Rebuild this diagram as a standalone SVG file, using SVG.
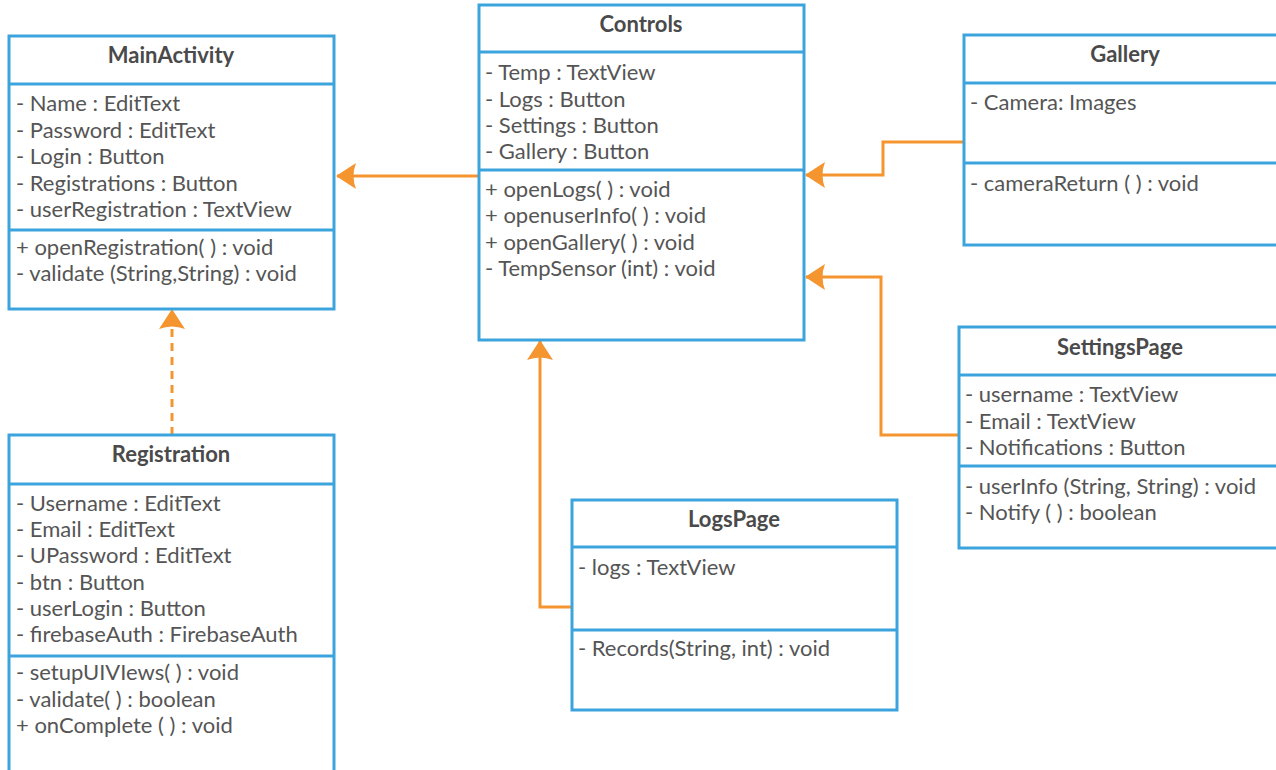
<svg xmlns="http://www.w3.org/2000/svg" width="1276" height="770" viewBox="0 0 1276 770">
<defs>
<style>
.box{fill:#fff;stroke:#3ca4dc;stroke-width:3}
.div{stroke:#3ca4dc;stroke-width:3}
.t{font-family:Lato,"Open Sans",sans-serif;font-size:22px;fill:#555}
.h{font-family:Lato,"Open Sans",sans-serif;font-size:22px;font-weight:bold;fill:#4a4a4a;text-anchor:middle}
.c{fill:none;stroke:#f5952f;stroke-width:3}
.d{stroke-dasharray:8 6}
</style>
<marker id="ah" viewBox="0 0 20 26" refX="19" refY="13" markerWidth="20" markerHeight="26" markerUnits="userSpaceOnUse" orient="auto">
<path d="M20 13 L0 0 Q5 13 0 26 Z" fill="#f5952f"/>
</marker>
</defs>
<g id="connectors">
<path class="c" d="M479 176 H337" marker-end="url(#ah)"/>
<path class="c d" d="M172 435 V310" marker-end="url(#ah)"/>
<path class="c" d="M572 607 H540 V341" marker-end="url(#ah)"/>
<path class="c" d="M964 142 H883 V175 H806" marker-end="url(#ah)"/>
<path class="c" d="M959 435 H881 V277 H806" marker-end="url(#ah)"/>
</g>
<g id="MainActivity">
<rect class="box" x="9" y="36" width="325" height="273"/>
<line class="div" x1="9" y1="84" x2="334" y2="84"/>
<line class="div" x1="9" y1="230" x2="334" y2="230"/>
<text class="h" x="171" y="63">MainActivity</text>
<text class="t" x="16" y="111">- Name : EditText</text>
<text class="t" x="16" y="138">- Password : EditText</text>
<text class="t" x="16" y="164">- Login : Button</text>
<text class="t" x="16" y="191">- Registrations : Button</text>
<text class="t" x="16" y="217">- userRegistration : TextView</text>
<text class="t" x="16" y="255">+ openRegistration( ) : void</text>
<text class="t" x="16" y="281">- validate (String,String) : void</text>
</g>
<g id="Controls">
<rect class="box" x="479" y="5" width="325" height="335"/>
<line class="div" x1="479" y1="52" x2="804" y2="52"/>
<line class="div" x1="479" y1="170" x2="804" y2="170"/>
<text class="h" x="641" y="32">Controls</text>
<text class="t" x="485" y="80">- Temp : TextView</text>
<text class="t" x="485" y="107">- Logs : Button</text>
<text class="t" x="485" y="133">- Settings : Button</text>
<text class="t" x="485" y="159">- Gallery : Button</text>
<text class="t" x="485" y="197">+ openLogs( ) : void</text>
<text class="t" x="485" y="223">+ openuserInfo( ) : void</text>
<text class="t" x="485" y="250">+ openGallery( ) : void</text>
<text class="t" x="485" y="276">- TempSensor (int) : void</text>
</g>
<g id="Gallery">
<rect class="box" x="964" y="35" width="330" height="210"/>
<line class="div" x1="964" y1="83" x2="1276" y2="83"/>
<line class="div" x1="964" y1="163" x2="1276" y2="163"/>
<text class="h" x="1125" y="62">Gallery</text>
<text class="t" x="970" y="110">- Camera: Images</text>
<text class="t" x="970" y="191">- cameraReturn ( ) : void</text>
</g>
<g id="SettingsPage">
<rect class="box" x="959" y="327" width="335" height="221"/>
<line class="div" x1="959" y1="375" x2="1276" y2="375"/>
<line class="div" x1="959" y1="466" x2="1276" y2="466"/>
<text class="h" x="1120" y="355">SettingsPage</text>
<text class="t" x="965" y="402">- username : TextView</text>
<text class="t" x="965" y="429">- Email : TextView</text>
<text class="t" x="965" y="455">- Notifications : Button</text>
<text class="t" x="965" y="494">- userInfo (String, String) : void</text>
<text class="t" x="965" y="520">- Notify ( ) : boolean</text>
</g>
<g id="Registration">
<rect class="box" x="9" y="435" width="325" height="350"/>
<line class="div" x1="9" y1="484" x2="334" y2="484"/>
<line class="div" x1="9" y1="656" x2="334" y2="656"/>
<text class="h" x="171" y="462">Registration</text>
<text class="t" x="16" y="511">- Username : EditText</text>
<text class="t" x="16" y="537">- Email : EditText</text>
<text class="t" x="16" y="563">- UPassword : EditText</text>
<text class="t" x="16" y="590">- btn : Button</text>
<text class="t" x="16" y="616">- userLogin : Button</text>
<text class="t" x="16" y="642">- firebaseAuth : FirebaseAuth</text>
<text class="t" x="16" y="680">- setupUIVIews( ) : void</text>
<text class="t" x="16" y="707">- validate( ) : boolean</text>
<text class="t" x="16" y="733">+ onComplete ( ) : void</text>
</g>
<g id="LogsPage">
<rect class="box" x="572" y="500" width="325" height="210"/>
<line class="div" x1="572" y1="547" x2="897" y2="547"/>
<line class="div" x1="572" y1="630" x2="897" y2="630"/>
<text class="h" x="734" y="527">LogsPage</text>
<text class="t" x="578" y="575">- logs : TextView</text>
<text class="t" x="578" y="656">- Records(String, int) : void</text>
</g>
</svg>
